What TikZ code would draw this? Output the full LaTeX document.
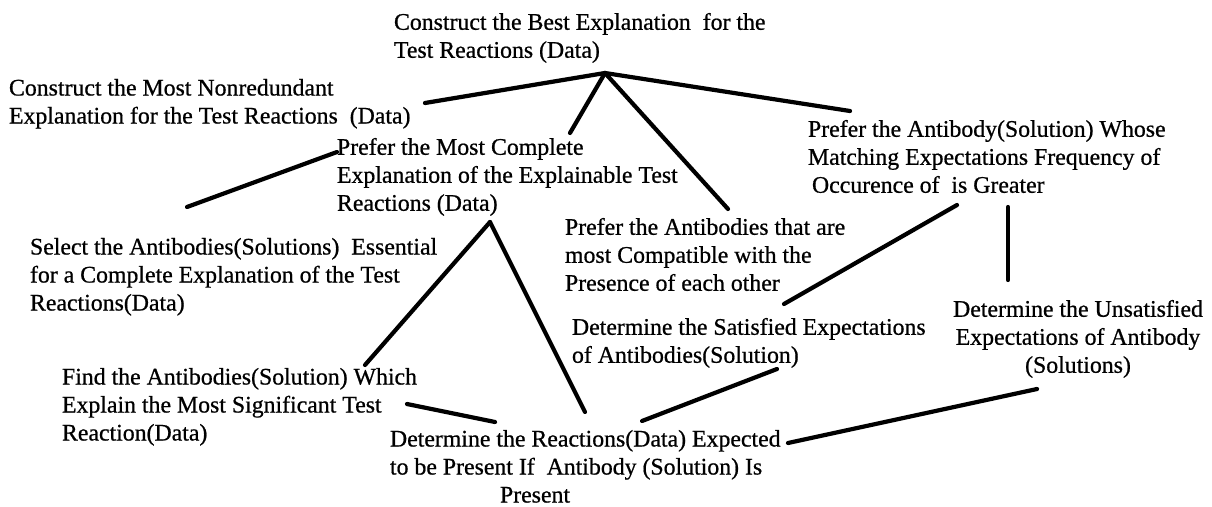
\documentclass[tikz,border=0pt]{standalone}
\usepackage{fontspec}
\setmainfont{Liberation Serif}[FakeBold=0.7]
\begin{document}
\begin{tikzpicture}[x=1pt,y=-1pt,
  goal/.style={inner sep=0pt, outer sep=0pt, font=\fontsize{23.8}{28}\selectfont,
               align=left, anchor=north west},
  link/.style={line width=4.2pt, line cap=round, line join=round}]
\useasboundingbox (0,0) rectangle (1212,506);

% goal statements
\node[goal] (best) at (394,13)
  {Construct the Best Explanation\ \ for the\\Test Reactions (Data)};
\node[goal] (nonred) at (9,79)
  {Construct the Most Nonredundant\\Explanation for the Test Reactions\ \ (Data)};
\node[goal] (complete) at (337,138)
  {Prefer the Most Complete\\Explanation of the Explainable Test\\Reactions (Data)};
\node[goal] (whose) at (808,120)
  {Prefer the Antibody(Solution) Whose\\Matching Expectations Frequency of\\\hspace*{4pt}Occurence of\ \ is Greater};
\node[goal] (compat) at (565,218)
  {Prefer the Antibodies that are\\most Compatible with the\\Presence of each other};
\node[goal] (select) at (30,238)
  {Select the Antibodies(Solutions)\ \ Essential\\for a Complete Explanation of the Test\\Reactions(Data)};
\node[goal] (satisfied) at (572,318)
  {Determine the Satisfied Expectations\\of Antibodies(Solution)};
\node[goal, anchor=north, align=center] (unsat) at (1078,300)
  {Determine the Unsatisfied\\Expectations of Antibody\\(Solutions)};
\node[goal] (find) at (62,368)
  {Find the Antibodies(Solution) Which\\Explain the Most Significant Test\\Reaction(Data)};
\node[goal] (expected) at (390,430)
  {Determine the Reactions(Data) Expected\\to be Present If\ \ Antibody (Solution) Is\\\hspace*{110pt}Present};

% junctions and line ends
\coordinate (bestJ) at (605,73);
\coordinate (completeJ) at (490,222);
\coordinate (nonredE) at (425,103);
\coordinate (completeTop) at (570,133);
\coordinate (compatTop) at (728,209);
\coordinate (whoseTop) at (850,111);
\coordinate (selectTop) at (187,207);
\coordinate (completeLeft) at (337,152);
\coordinate (findTop) at (365,365);
\coordinate (expectedTop) at (585,412);
\coordinate (findRight) at (407,404);
\coordinate (expectedLeft) at (495,422);
\coordinate (expectedMid) at (642,421);
\coordinate (satisfiedLow) at (777,369);
\coordinate (satisfiedTop) at (784,304);
\coordinate (whoseLow) at (957,205);
\coordinate (whoseLowR) at (1008,207);
\coordinate (unsatTop) at (1008,280);
\coordinate (expectedRight) at (788,443);
\coordinate (unsatLow) at (1037,389);

% connectors
\draw[link] (nonredE) -- (bestJ);
\draw[link] (bestJ) -- (completeTop);
\draw[link] (bestJ) -- (compatTop);
\draw[link] (bestJ) -- (whoseTop);
\draw[link] (selectTop) -- (completeLeft);
\draw[link] (completeJ) -- (findTop);
\draw[link] (completeJ) -- (expectedTop);
\draw[link] (findRight) -- (expectedLeft);
\draw[link] (expectedMid) -- (satisfiedLow);
\draw[link] (satisfiedTop) -- (whoseLow);
\draw[link] (whoseLowR) -- (unsatTop);
\draw[link] (expectedRight) -- (unsatLow);
\end{tikzpicture}
\end{document}
